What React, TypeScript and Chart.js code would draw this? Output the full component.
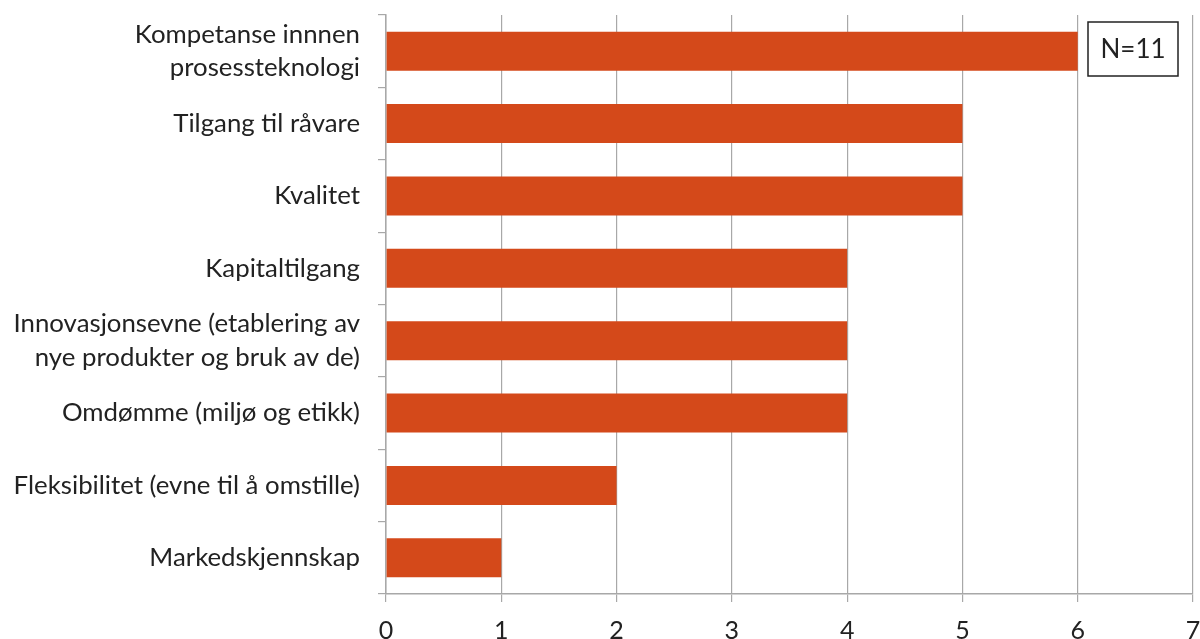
import React, { useEffect, useRef } from "react";
import { Chart, registerables } from "chart.js";

Chart.register(...registerables);

const categories: (string | string[])[] = [
  ["Kompetanse innnen", "prosessteknologi"],
  "Tilgang til råvare",
  "Kvalitet",
  "Kapitaltilgang",
  ["Innovasjonsevne (etablering av", "nye produkter og bruk av de)"],
  "Omdømme (miljø og etikk)",
  "Fleksibilitet (evne til å omstille)",
  "Markedskjennskap",
];
const values: number[] = [6, 5, 5, 4, 4, 4, 2, 1];
const xMin = 0;
const xMax = 7;
const annotationText = "N=11";

const BAR_COLOR = "#D4491A";
const GRID_COLOR = "#a8a8a8";
const FONT = "Lato, 'Open Sans', sans-serif";

const nBoxPlugin = {
  id: "nbox",
  afterDraw(chart: any) {
    const { ctx, chartArea } = chart;
    const w = 90;
    const h = 54;
    const x = chartArea.right - 105;
    const y = chartArea.top + 7;
    ctx.save();
    ctx.fillStyle = "#ffffff";
    ctx.fillRect(x, y, w, h);
    ctx.strokeStyle = "#222222";
    ctx.lineWidth = 1.5;
    ctx.strokeRect(x, y, w, h);
    ctx.fillStyle = "#222222";
    ctx.font = `26px ${FONT}`;
    ctx.textAlign = "center";
    ctx.textBaseline = "middle";
    ctx.fillText(annotationText, x + w / 2, y + h / 2 + 1);
    ctx.restore();
  },
};

export default function App() {
  const ref = useRef<HTMLCanvasElement | null>(null);
  useEffect(() => {
    if (!ref.current) return;
    const chart = new Chart(ref.current, {
      type: "bar",
      data: {
        labels: categories,
        datasets: [
          {
            data: values,
            backgroundColor: BAR_COLOR,
            borderWidth: 0,
            categoryPercentage: 1,
            barPercentage: 0.54,
          },
        ],
      },
      options: {
        indexAxis: "y",
        responsive: false,
        animation: false,
        layout: { padding: { top: 15, right: 7, left: 0, bottom: 0 } },
        plugins: {
          legend: { display: false },
          tooltip: { enabled: false },
        },
        scales: {
          x: {
            min: xMin,
            max: xMax,
            ticks: {
              stepSize: 1,
              color: "#222222",
              font: { family: FONT, size: 25 },
              padding: 14,
            },
            grid: {
              color: GRID_COLOR,
              lineWidth: 1.2,
              tickLength: 8,
              drawTicks: true,
            },
            border: { display: true, color: GRID_COLOR, width: 1.5 },
            afterFit(scale: any) {
              scale.height = 45;
              scale.paddingLeft = 0;
              scale.paddingRight = 0;
            },
          },
          y: {
            ticks: {
              color: "#222222",
              font: { family: FONT, size: 25.8, lineHeight: 1.28 },
              padding: 18,
            },
            grid: {
              drawOnChartArea: false,
              drawTicks: true,
              tickLength: 8,
              color: GRID_COLOR,
              lineWidth: 1.2,
            },
            border: { display: true, color: GRID_COLOR, width: 1.5 },
            afterFit(scale: any) {
              scale.width = 386;
              scale.paddingTop = 0;
              scale.paddingBottom = 0;
            },
          },
        },
      },
      plugins: [nBoxPlugin],
    });
    return () => chart.destroy();
  }, []);
  return (
    <div style={{ position: "fixed", left: 0, top: 0, width: 1200, height: 639, background: "#fff" }}>
      <canvas ref={ref} width={1200} height={639} />
    </div>
  );
}
